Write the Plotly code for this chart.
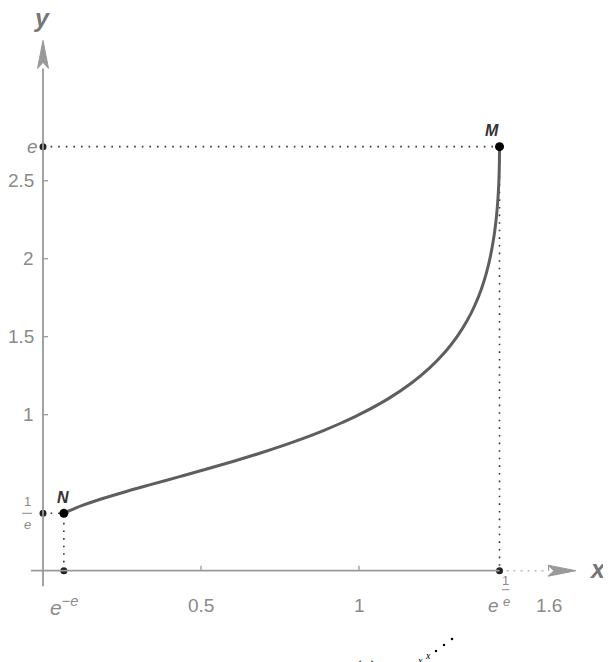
import math
import plotly.graph_objects as go

# curve y = x^x^x^... (x, y)
tower_x = [0.0660, 0.0784, 0.1012, 0.1268, 0.1696, 0.2500, 0.3372, 0.4268, 0.5154,
           0.6008, 0.6814, 0.7566, 0.8260, 0.8895, 0.9474, 1.0000, 1.0905, 1.1641,
           1.2236, 1.2717, 1.3104, 1.3415, 1.3663, 1.3862, 1.4019, 1.4142, 1.4237,
           1.4310, 1.4364, 1.4402, 1.4427, 1.4441, 1.4447]
tower_y = [0.368, 0.38, 0.40, 0.42, 0.45, 0.50, 0.55, 0.60, 0.65,
           0.70, 0.75, 0.80, 0.85, 0.90, 0.95, 1.00, 1.10, 1.20,
           1.30, 1.40, 1.50, 1.60, 1.70, 1.80, 1.90, 2.00, 2.10,
           2.20, 2.30, 2.40, 2.50, 2.60, 2.718]

# end points N and M
pt_names = ["N", "M"]
pt_x = [math.exp(-math.e), math.exp(1 / math.e)]
pt_y = [1 / math.e, math.e]

# plain ticks
xticks = [0.5, 1, 1.6]
xtick_text = ["0.5", "1", "1.6"]
yticks = [1, 1.5, 2, 2.5]
ytick_text = ["1", "1.5", "2", "2.5"]

# pixel layout (page pixels): x0 at 43px, 316 px per unit; y0 at 570.7px, 156 px per unit
# the page body adds an 8px margin around the plot
W, H = 611, 662
PAD = 8
OX, SX = 43, 316
OY, SY = 570.7, 156


def dx(p):
    return p / SX


def dy(p):
    return p / SY


def px(xp, yp):
    return (xp - OX) / SX, (OY - yp) / SY


GRAY = "#8a8a8a"
AXIS = "#999999"
fig = go.Figure()

# dotted guides
dot = dict(color="#333333", width=1.6, dash="1.6px,6px")
for i in range(2):
    fig.add_trace(go.Scatter(x=[0, pt_x[i], pt_x[i]], y=[pt_y[i], pt_y[i], 0],
                             mode="lines", line=dot, hoverinfo="skip"))
# light dotted end of x axis
fig.add_trace(go.Scatter(x=[pt_x[1], 1.6], y=[0, 0], mode="lines",
                         line=dict(color="#bbbbbb", width=1.6, dash="2px,5px"),
                         hoverinfo="skip"))

# axes lines
x_lo, x_hi = -0.038, 1.598
y_lo, y_hi = -0.10, 3.22
shapes = [
    dict(type="line", x0=x_lo, x1=pt_x[1], y0=0, y1=0, line=dict(color=AXIS, width=1.8)),
    dict(type="line", x0=0, x1=0, y0=y_lo, y1=y_hi, line=dict(color=AXIS, width=1.8)),
]
# arrowheads
ax_len, ax_half = dx(28), dy(5.5)
shapes.append(dict(type="path",
                   path=f"M {x_hi} {-ax_half} L {x_hi + ax_len} 0 L {x_hi} {ax_half} L {x_hi + dx(6)} 0 Z",
                   fillcolor=AXIS, line=dict(color=AXIS, width=1)))
ay_len, ay_half = dy(28), dx(5.5)
shapes.append(dict(type="path",
                   path=f"M {-ay_half} {y_hi} L 0 {y_hi + ay_len} L {ay_half} {y_hi} L 0 {y_hi + dy(6)} Z",
                   fillcolor=AXIS, line=dict(color=AXIS, width=1)))
# ticks
for t in xticks:
    shapes.append(dict(type="line", x0=t, x1=t, y0=0, y1=dy(5), line=dict(color=AXIS, width=1.3)))
for t in yticks:
    shapes.append(dict(type="line", x0=0, x1=dx(5), y0=t, y1=t, line=dict(color=AXIS, width=1.3)))

# curve
fig.add_trace(go.Scatter(x=tower_x, y=tower_y, mode="lines",
                         line=dict(color="#5e5e5e", width=3, shape="spline"),
                         hoverinfo="skip"))

# small dots on axes
fig.add_trace(go.Scatter(x=[0, 0, pt_x[0], pt_x[1]], y=[pt_y[0], pt_y[1], 0, 0], mode="markers",
                         marker=dict(color="#222222", size=7), hoverinfo="skip"))
# N and M
fig.add_trace(go.Scatter(x=pt_x, y=pt_y, mode="markers",
                         marker=dict(color="black", size=9), hoverinfo="skip"))

ann = []
fnt = dict(family="Liberation Sans, Arial", size=19, color=GRAY)
for t, s in zip(xticks, xtick_text):
    ann.append(dict(x=t, y=-dy(35), text=s, showarrow=False, font=fnt, xanchor="center", yanchor="middle"))
for t, s in zip(yticks, ytick_text):
    ann.append(dict(x=-dx(7), y=t, text=s, showarrow=False, font=fnt, xanchor="right", yanchor="middle"))

# special labels
big = dict(family="Liberation Sans, Arial", size=21, color=GRAY)
ann.append(dict(x=pt_x[0], y=-dy(35), text="<i>e</i><sup>−<i>e</i></sup>", showarrow=False,
                font=big, xanchor="center", yanchor="middle"))
ann.append(dict(x=pt_x[1] - dx(6), y=-dy(35), text="<i>e</i>", showarrow=False,
                font=fnt, xanchor="center", yanchor="middle"))
small = dict(family="Liberation Sans, Arial", size=13, color=GRAY)
ann.append(dict(x=pt_x[1] + dx(6), y=-dy(10), text="1", showarrow=False, font=small,
                xanchor="center", yanchor="middle"))
ann.append(dict(x=pt_x[1] + dx(7), y=-dy(31), text="<i>e</i>", showarrow=False, font=small,
                xanchor="center", yanchor="middle"))
shapes.append(dict(type="line", x0=pt_x[1] + dx(2.5), x1=pt_x[1] + dx(10),
                   y0=-dy(19), y1=-dy(19), line=dict(color=GRAY, width=1)))
ann.append(dict(x=-dx(11), y=pt_y[1], text="<i>e</i>", showarrow=False, font=fnt,
                xanchor="center", yanchor="middle"))
ann.append(dict(x=-dx(16), y=pt_y[0] + dy(12), text="1", showarrow=False, font=small,
                xanchor="center", yanchor="middle"))
ann.append(dict(x=-dx(16), y=pt_y[0] - dy(11), text="<i>e</i>", showarrow=False, font=small,
                xanchor="center", yanchor="middle"))
shapes.append(dict(type="line", x0=-dx(21), x1=-dx(11), y0=pt_y[0], y1=pt_y[0],
                   line=dict(color=GRAY, width=1)))

# point names
pfont = dict(family="Liberation Sans, Arial", size=16, color="#333333")
ann.append(dict(x=pt_x[0] - dx(1), y=pt_y[0] + dy(16), text="<b><i>N</i></b>", showarrow=False,
                font=pfont, xanchor="center", yanchor="middle"))
ann.append(dict(x=pt_x[1] - dx(8), y=pt_y[1] + dy(16), text="<b><i>M</i></b>", showarrow=False,
                font=pfont, xanchor="center", yanchor="middle"))

# axis names
afont = dict(family="Liberation Sans, Arial", size=25, color="#777777")
ax_x, ax_y = px(597, 569)
ann.append(dict(x=ax_x, y=ax_y, text="<b><i>x</i></b>", showarrow=False, font=afont,
                xanchor="center", yanchor="middle"))
ay_x, ay_y = px(41, 18)
ann.append(dict(x=ay_x, y=ay_y, text="<b><i>y</i></b>", showarrow=False, font=afont,
                xanchor="center", yanchor="middle"))

# caption, mostly below the window
cfont = dict(family="Liberation Serif, Times New Roman", size=20, color="black")
cx, cy = px(375, 655)
ann.append(dict(x=cx, y=cy, text="<i>y</i>(<i>x</i>) = <i>x</i>", showarrow=False, font=cfont,
                xanchor="center", yanchor="top"))
sfont = dict(family="Liberation Serif, Times New Roman", size=10, color="black")
for (a, b) in [(420, 660), (428, 655)]:
    sx, sy = px(a, b)
    ann.append(dict(x=sx, y=sy, text="<i>x</i>", showarrow=False, font=sfont,
                    xanchor="center", yanchor="middle"))
cdx = []
cdy = []
for (a, b) in [(436, 651), (444, 645), (452, 639)]:
    u, v = px(a, b)
    cdx.append(u)
    cdy.append(v)
fig.add_trace(go.Scatter(x=cdx, y=cdy, mode="markers", marker=dict(color="black", size=2.5),
                         hoverinfo="skip"))

fig.update_layout(
    width=W, height=H,
    margin=dict(l=0, r=0, t=0, b=0),
    paper_bgcolor="white", plot_bgcolor="white",
    showlegend=False,
    xaxis=dict(visible=False, range=[-(OX - PAD) / SX, (W - OX + PAD) / SX], fixedrange=True),
    yaxis=dict(visible=False, range=[-(H - OY + PAD) / SY, (OY - PAD) / SY], fixedrange=True),
    shapes=shapes, annotations=ann,
)
fig.write_html("out.html")
